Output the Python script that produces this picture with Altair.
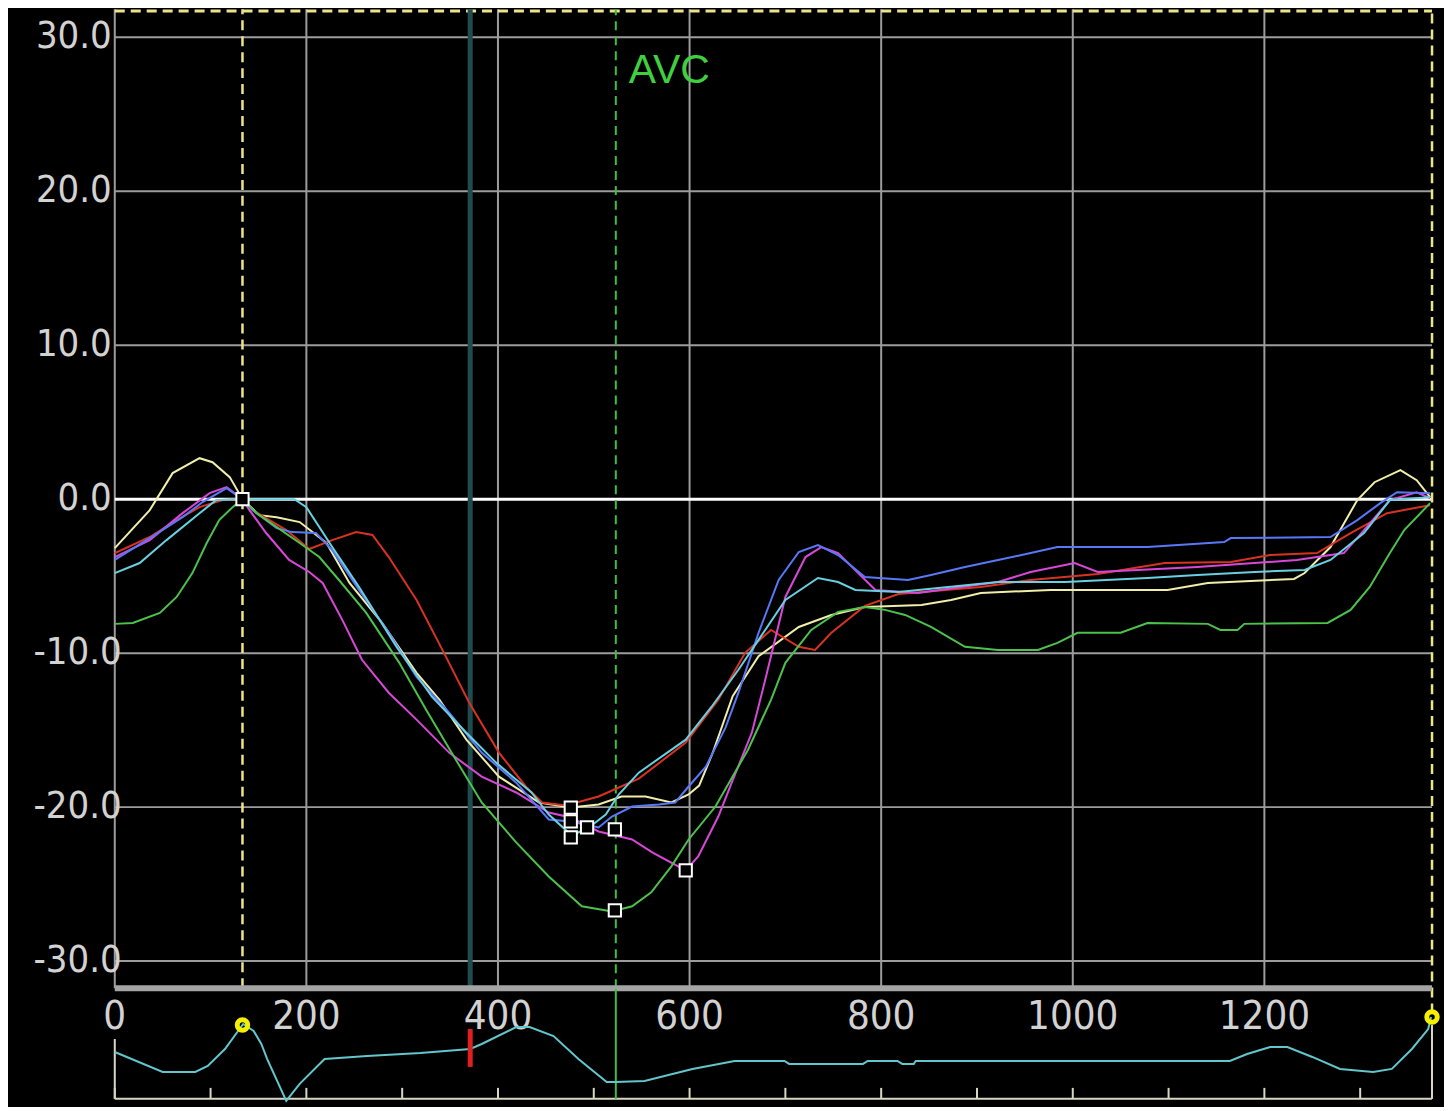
import altair as alt
import pandas as pd

# ---------------- axis ranges / ticks ----------------
X_MAX = 1375
Y_TOP = 31.82
Y_BOTTOM = -39.14
PANEL_BOTTOM = -31.76
x_ticks = [0, 200, 400, 600, 800, 1000, 1200]
x_tick_labels = ["0", "200", "400", "600", "800", "1000", "1200"]
y_ticks = [-30, -20, -10, 0, 10, 20, 30]
y_tick_labels = ["-30.0", "-20.0", "-10.0", "0.0", "10.0", "20.0", "30.0"]
y_grid = [-30, -20, -10, 10, 20, 30]
ecg_ticks = [0, 100, 200, 300, 400, 500, 600, 700, 800, 900, 1000, 1100, 1200, 1300]

# ---------------- event markers (ms) ----------------
r_wave_t = [133.3, 1375]
r_wave_ecg = [7.4, 8.2]
cursor_t = 371
avc_t = 523

# ---------------- strain curves ----------------
series_names = ["yellow", "red", "magenta", "blue", "cyan", "green"]
series_colors = ["#f0eea8", "#d83222", "#d848d8", "#5878f8", "#68d0e0", "#4cc24c"]

yellow_t = [0, 36.5, 60.4, 88.5, 102, 120, 133.3, 151, 169, 193, 221, 245, 279, 315, 339, 367, 401, 443, 476,
            505, 529, 554, 581, 599, 610, 624, 645, 672, 714, 748, 783, 842, 873, 904, 977, 1099, 1141, 1231,
            1242, 1269, 1297, 1315, 1342, 1359, 1373]
yellow_v = [-3.18, -0.71, 1.69, 2.66, 2.40, 1.43, 0, -1.04, -1.17, -1.49, -2.85, -5.44, -8.04, -11.28, -13.03,
            -15.62, -18.02, -19.70, -20.03, -19.83, -19.31, -19.31, -19.70, -19.18, -18.6, -16.5, -12.8, -10.2,
            -8.30, -7.52, -7.00, -6.87, -6.55, -6.09, -5.90, -5.90, -5.44, -5.18, -4.80, -3.11, -0.06, 1.10,
            1.88, 1.23, 0.13]

red_t = [0, 36.5, 64.6, 88.5, 112.5, 133.3, 143.8, 179, 203, 227, 252, 269, 286, 315, 342, 370, 401, 429, 446,
         471, 505, 547, 596, 630, 658, 685, 714, 731, 748, 783, 818, 904, 956, 1026, 1096, 1165, 1206, 1255,
         1290, 1328, 1373]
red_v = [-3.50, -2.46, -1.36, -0.52, -0.06, 0, -0.71, -2.01, -3.24, -2.66, -2.14, -2.33, -3.76, -6.55, -9.79,
         -13.22, -16.46, -18.66, -19.70, -19.90, -19.31, -18.15, -15.81, -13.03, -9.98, -8.49, -9.59, -9.79,
         -8.68, -6.93, -6.16, -5.70, -5.25, -4.86, -4.15, -4.08, -3.63, -3.50, -2.20, -0.91, -0.39]

magenta_t = [0, 36.5, 70.8, 99, 116.7, 133.3, 140.6, 158, 182, 203, 217, 237.5, 258, 286, 315, 349, 383, 419,
             453, 476, 505, 540, 561, 596, 609, 630, 644, 665, 679, 700, 721, 737.5, 755, 776, 794, 838.5, 922,
             956, 1002, 1026, 1130, 1234, 1283, 1304, 1331, 1359, 1373]
magenta_v = [-3.76, -2.66, -0.91, 0.39, 0.78, 0, -0.71, -2.20, -3.95, -4.73, -5.44, -7.84, -10.43, -12.57,
             -14.32, -16.46, -18.02, -19.05, -20.35, -20.67, -21.58, -22.10, -22.94, -24.11, -23.20, -20.61,
             -18.41, -15.17, -11.73, -6.35, -3.76, -3.11, -3.50, -4.80, -5.90, -6.09, -5.38, -4.73, -4.15,
             -4.73, -4.41, -3.95, -3.50, -2.01, -0.06, 0.45, 0.06]

blue_t = [0, 36.5, 70.8, 91.7, 116.7, 133.3, 143.8, 169, 185, 210, 227, 255, 286, 315, 349, 383, 419, 453, 476,
          505, 519, 540, 568, 585, 599, 617, 637.5, 651, 672, 693, 714, 734, 755, 783, 828, 852, 887.5, 922,
          956, 984, 1078, 1158, 1165, 1269, 1297, 1321, 1338.5, 1373]
blue_v = [-3.95, -2.53, -1.17, -0.19, 0.71, 0, -0.71, -1.88, -2.14, -2.20, -3.31, -5.90, -8.68, -11.54, -13.87,
          -16.46, -18.41, -20.80, -20.93, -21.32, -20.61, -19.96, -19.83, -19.70, -18.66, -17.37, -14.84,
          -12.57, -8.68, -5.25, -3.43, -2.98, -3.63, -5.06, -5.25, -4.93, -4.41, -3.95, -3.50, -3.11, -3.11,
          -2.79, -2.53, -2.46, -1.36, -0.26, 0.45, 0.39]

cyan_t = [0, 26, 54, 88.5, 106, 133.3, 187.5, 200, 227, 255, 294, 331, 367, 398, 435, 453, 477, 495, 512.5,
          526, 547, 596, 623, 651, 672, 700, 734, 755, 773, 818, 922, 992, 1078, 1130, 1190, 1242, 1269, 1304,
          1331, 1373]
cyan_v = [-4.80, -4.15, -2.66, -0.91, -0.06, 0, 0, -0.52, -3.11, -5.70, -9.59, -12.83, -15.17, -17.11, -19.05,
          -20.48, -21.84, -21.32, -20.48, -19.18, -17.76, -15.62, -13.48, -11.08, -9.14, -6.55, -5.12, -5.38,
          -5.90, -6.03, -5.38, -5.38, -5.12, -4.93, -4.73, -4.60, -3.95, -2.20, -0.06, 0.13]

green_t = [0, 18.75, 47, 64.6, 81, 96, 109, 123, 133.3, 148, 193, 213.5, 234, 262.5, 297, 325, 356, 383, 419,
           453, 487.5, 519, 540, 560, 581, 599, 627, 661, 685, 700, 727, 755, 783, 804, 825, 852, 887.5, 922,
           963.5, 984, 1005, 1050, 1078, 1141, 1154, 1172, 1179, 1266, 1290, 1310, 1331, 1346, 1373]
green_v = [-8.10, -8.04, -7.39, -6.35, -4.80, -2.85, -1.36, -0.52, 0, -0.91, -2.85, -3.76, -5.25, -7.39,
           -10.63, -13.67, -16.92, -19.70, -22.29, -24.50, -26.44, -26.77, -26.44, -25.53, -23.85, -22.10,
           -19.96, -16.27, -13.03, -10.63, -8.49, -7.32, -7.00, -7.19, -7.52, -8.30, -9.59, -9.79, -9.79, -9.33,
           -8.68, -8.68, -8.04, -8.10, -8.49, -8.49, -8.10, -8.04, -7.19, -5.70, -3.50, -2.01, -0.26]

# peak markers (squares)
marker_t = [133.3, 476, 476, 476, 493, 522, 522, 596]
marker_v = [0, -20.03, -20.93, -21.97, -21.32, -21.45, -26.70, -24.11]

# ---------------- ECG trace (arbitrary units) ----------------
ecg_t = [0, 50, 84, 97, 115, 134, 145, 153, 159, 179, 193, 219, 263.5, 319, 371, 383, 419, 433, 458, 484,
         513.5, 523, 553, 603, 647, 699, 704, 781, 786, 817, 822, 834, 836, 1164, 1182, 1206, 1224, 1250,
         1279, 1313.5, 1333, 1354, 1371, 1374]
ecg_amp = [4.7, 2.7, 2.7, 3.3, 5.0, 7.5, 6.8, 5.5, 4.0, -0.2, 1.5, 4.0, 4.3, 4.6, 5.0, 5.5, 7.2, 7.2, 6.3,
           4.0, 1.7, 1.7, 1.8, 3.0, 3.8, 3.8, 3.5, 3.5, 3.8, 3.8, 3.5, 3.5, 3.8, 3.8, 4.5, 5.2, 5.2, 4.2, 3.0,
           2.7, 3.0, 5.0, 7.0, 8.2]

# ---------------- build tables ----------------
curve_rows = []
for name, ts, vs in zip(series_names,
                        [yellow_t, red_t, magenta_t, blue_t, cyan_t, green_t],
                        [yellow_v, red_v, magenta_v, blue_v, cyan_v, green_v]):
    for i, (t, v) in enumerate(zip(ts, vs)):
        curve_rows.append({"series": name, "t": t, "v": v, "i": i})
curves_df = pd.DataFrame(curve_rows)
markers_df = pd.DataFrame({"t": marker_t, "v": marker_v})
ecg_df = pd.DataFrame({"t": ecg_t, "e": ecg_amp})
ylab_df = pd.DataFrame({"v": y_ticks, "label": y_tick_labels})

xs = alt.Scale(domain=[0, X_MAX], nice=False, zero=False)
ys = alt.Scale(domain=[Y_BOTTOM, Y_TOP], nice=False, zero=False)
es = alt.Scale(domain=[-0.3, 109.2], nice=False, zero=False)

FONT_NUM = "DejaVu Sans Condensed, Liberation Sans Narrow, DejaVu Sans"
GRID = "#9c9c9c"
LABEL = "#d2d2d2"


def X(field="t"):
    return alt.X(f"{field}:Q", scale=xs, axis=None)


def Y(field="v"):
    return alt.Y(f"{field}:Q", scale=ys, axis=None)


def E(field="e"):
    return alt.Y(f"{field}:Q", scale=es, axis=None)


# horizontal grid
hgrid = alt.Chart(pd.DataFrame({"v": y_grid, "x0": 0, "x1": X_MAX})).mark_rule(
    color=GRID, strokeWidth=2).encode(x=X("x0"), x2="x1", y=Y("v"))
zero = alt.Chart(pd.DataFrame({"v": [0], "x0": [0], "x1": [X_MAX]})).mark_rule(
    color="#ffffff", strokeWidth=3).encode(x=X("x0"), x2="x1", y=Y("v"))
vgrid = alt.Chart(pd.DataFrame({"t": x_ticks, "y0": PANEL_BOTTOM, "y1": Y_TOP})).mark_rule(
    color=GRID, strokeWidth=2).encode(x=X("t"), y=Y("y0"), y2="y1")
top_border = alt.Chart(pd.DataFrame({"v": [Y_TOP - 0.12], "x0": [0], "x1": [X_MAX]})).mark_rule(
    color="#ece48a", strokeWidth=3, strokeDash=[10, 6]).encode(x=X("x0"), x2="x1", y=Y("v"))
r_lines = alt.Chart(pd.DataFrame({"t": r_wave_t, "y0": [PANEL_BOTTOM, -33.4], "y1": Y_TOP})).mark_rule(
    color="#ece48a", strokeWidth=2.5, strokeDash=[10, 6]).encode(x=X("t"), y=Y("y0"), y2="y1")
cursor = alt.Chart(pd.DataFrame({"t": [cursor_t], "y0": [PANEL_BOTTOM], "y1": [Y_TOP]})).mark_rule(
    color="#1f4c4e", strokeWidth=5).encode(x=X("t"), y=Y("y0"), y2="y1")
avc_line = alt.Chart(pd.DataFrame({"t": [avc_t], "y0": [PANEL_BOTTOM], "y1": [Y_TOP]})).mark_rule(
    color="#3fbf3f", strokeWidth=2, strokeDash=[9, 6]).encode(x=X("t"), y=Y("y0"), y2="y1")
gray_bar = alt.Chart(pd.DataFrame({"v": [PANEL_BOTTOM], "x0": [0], "x1": [X_MAX]})).mark_rule(
    color="#a4a4a4", strokeWidth=6).encode(x=X("x0"), x2="x1", y=Y("v"))

lines = alt.Chart(curves_df).mark_line(strokeWidth=2).encode(
    x=X("t"),
    y=Y("v"),
    color=alt.Color("series:N", scale=alt.Scale(domain=series_names, range=series_colors), legend=None),
    order="i:Q",
)
markers = alt.Chart(markers_df).mark_point(
    shape="square", size=150, filled=True, fill="#000000", stroke="#ffffff", strokeWidth=2, opacity=1
).encode(x=X("t"), y=Y("v"))

# y tick labels (negative labels sit slightly further right, as in the source display)
ylab_pos = alt.Chart(ylab_df).transform_filter("datum.v >= 0").mark_text(
    font=FONT_NUM, fontSize=38, color=LABEL, align="right", baseline="middle"
).encode(x=alt.value(-3), y=Y("v"), text="label:N")
ylab_neg = alt.Chart(ylab_df).transform_filter("datum.v < 0").mark_text(
    font=FONT_NUM, fontSize=38, color=LABEL, align="right", baseline="middle"
).encode(x=alt.value(7), y=Y("v"), text="label:N")

x_labels = alt.Chart(pd.DataFrame({"t": x_ticks, "label": x_tick_labels, "v": -33.64})).mark_text(
    font=FONT_NUM, fontSize=40, color=LABEL, align="center", baseline="middle"
).encode(x=X("t"), y=Y("v"), text="label:N")
avc_text = alt.Chart(pd.DataFrame({"t": [avc_t], "v": [27.0], "label": ["AVC"]})).mark_text(
    font="Liberation Sans", fontSize=41, color="#3fcf3f", align="left", baseline="alphabetic", dx=13
).encode(x=X("t"), y=Y("v"), text="label:N")

strain = alt.layer(hgrid, vgrid, zero, top_border, r_lines, cursor, avc_line, gray_bar,
                   lines, markers, ylab_pos, ylab_neg, x_labels, avc_text)

# ---------------- ECG strip ----------------
ecg_line = alt.Chart(ecg_df).mark_line(color="#62c6cc", strokeWidth=2).encode(x=X("t"), y=E("e"))
ecg_base = alt.Chart(pd.DataFrame({"e": [0], "x0": [0], "x1": [X_MAX]})).mark_rule(
    color="#d8d6c0", strokeWidth=2).encode(x=X("x0"), x2="x1", y=E("e"))
ecg_tick = alt.Chart(pd.DataFrame({"t": ecg_ticks, "e0": 0, "e1": 1.1})).mark_rule(
    color="#d8d6c0", strokeWidth=2).encode(x=X("t"), y=E("e0"), y2="e1")
ecg_edges = alt.Chart(pd.DataFrame({"t": [0, X_MAX], "e0": [0, 0], "e1": [6.0, 7.4]})).mark_rule(
    color="#d8d6c0", strokeWidth=2).encode(x=X("t"), y=E("e0"), y2="e1")
ecg_avc = alt.Chart(pd.DataFrame({"t": [avc_t], "e0": [0], "e1": [11.0]})).mark_rule(
    color="#3fbf3f", strokeWidth=2).encode(x=X("t"), y=E("e0"), y2="e1")
ecg_cursor = alt.Chart(pd.DataFrame({"t": [cursor_t], "e0": [3.2], "e1": [7.0]})).mark_rule(
    color="#e02020", strokeWidth=5).encode(x=X("t"), y=E("e0"), y2="e1")
ecg_r = alt.Chart(pd.DataFrame({"t": r_wave_t, "e": r_wave_ecg})).mark_point(
    shape="circle", size=110, filled=False, stroke="#f4f000", strokeWidth=5, opacity=1
).encode(x=X("t"), y=E("e"))

ecg = alt.layer(ecg_base, ecg_tick, ecg_edges, ecg_avc, ecg_line, ecg_cursor, ecg_r)

chart = alt.layer(strain, ecg).resolve_scale(y="independent").properties(
    width=1320, height=1095,
    autosize=alt.AutoSizeParams(type="none"),
    padding={"left": 107, "top": 0, "right": 12, "bottom": 4},
    background="#000000",
).configure_view(stroke=None)

chart.save("out.html", embed_options={"renderer": "svg", "actions": False})
